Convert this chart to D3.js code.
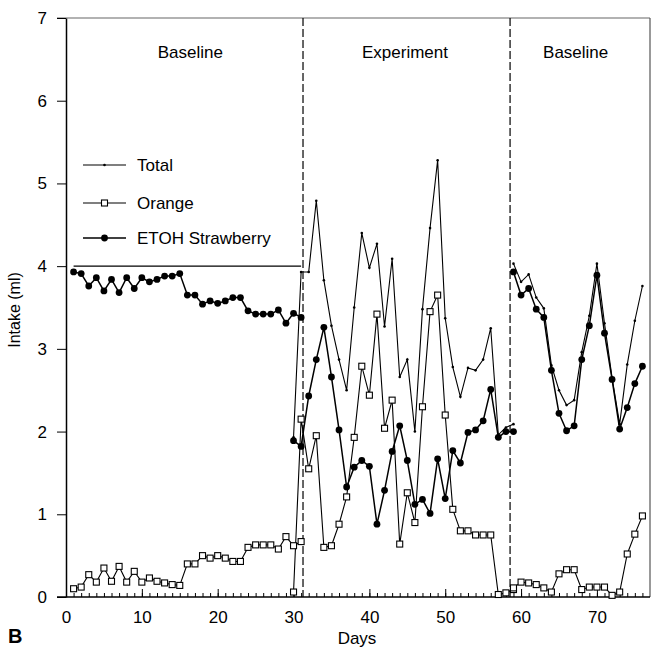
<!DOCTYPE html>
<html>
<head>
<meta charset="utf-8">
<script src="https://cdn.jsdelivr.net/npm/d3@7"></script>
<style>
  body { margin: 0; background: #fff; }
  svg { font-family: "Liberation Sans", Arial, sans-serif; }
  .axis text { font-size: 17px; fill: #000; }
  .axis path, .axis line { stroke: #000; }
</style>
</head>
<body>
<svg id="chart" width="659" height="657"></svg>
<script>
// phase 1 (baseline), days 1-31
const days1 = [1,2,3,4,5,6,7,8,9,10,11,12,13,14,15,16,17,18,19,20,21,22,23,24,25,26,27,28,29,30,31];
const total1 = [4.0,4.0,4.0,4.0,4.0,4.0,4.0,4.0,4.0,4.0,4.0,4.0,4.0,4.0,4.0,4.0,4.0,4.0,4.0,4.0,4.0,4.0,4.0,4.0,4.0,4.0,4.0,4.0,4.0,4.0,4.0];
const orange1 = [0.10,0.12,0.27,0.18,0.35,0.19,0.37,0.18,0.31,0.18,0.23,0.19,0.17,0.15,0.14,0.40,0.40,0.50,0.47,0.50,0.47,0.43,0.43,0.60,0.63,0.63,0.63,0.58,0.73,0.62,0.67];
const straw1 = [3.93,3.91,3.76,3.86,3.70,3.84,3.68,3.86,3.73,3.86,3.81,3.84,3.88,3.88,3.91,3.65,3.65,3.54,3.58,3.55,3.58,3.62,3.62,3.46,3.42,3.42,3.42,3.47,3.31,3.43,3.38];

// phase 2 (experiment), days 30-59
const days2 = [30,31,32,33,34,35,36,37,38,39,40,41,42,43,44,45,46,47,48,49,50,51,52,53,54,55,56,57,58,59];
const total2 = [1.93,3.93,3.93,4.79,3.83,3.28,2.87,2.50,3.50,4.40,3.98,4.27,3.27,4.09,2.66,2.87,2.00,3.48,4.46,5.28,3.37,2.78,2.42,2.77,2.74,2.87,3.25,1.96,2.05,2.09];
const orange2 = [0.06,2.15,1.55,1.95,0.60,0.62,0.88,1.21,1.93,2.79,2.44,3.42,2.04,2.38,0.64,1.26,0.90,2.30,3.45,3.65,2.20,1.06,0.80,0.80,0.75,0.75,0.75,0.03,0.05,0.09];
const straw2 = [1.89,1.82,2.43,2.87,3.26,2.66,2.02,1.33,1.57,1.65,1.58,0.88,1.29,1.76,2.07,1.65,1.12,1.18,1.01,1.67,1.19,1.77,1.62,1.99,2.02,2.13,2.51,1.93,2.00,2.00];

// phase 3 (baseline), days 59-76
const days3 = [59,60,61,62,63,64,65,66,67,68,69,70,71,72,73,74,75,76];
const total3 = [4.03,3.81,3.90,3.62,3.49,2.80,2.50,2.32,2.38,2.96,3.40,4.03,3.31,2.65,2.09,2.81,3.34,3.76];
const orange3 = [0.11,0.18,0.17,0.15,0.11,0.06,0.28,0.33,0.33,0.09,0.12,0.12,0.12,0.02,0.06,0.52,0.76,0.98];
const straw3 = [3.93,3.65,3.73,3.48,3.38,2.74,2.22,2.01,2.07,2.87,3.28,3.89,3.19,2.63,2.03,2.29,2.58,2.79];

const phaseBreaks = [31.25, 58.55];
const phaseLabels = ["Baseline", "Experiment", "Baseline"];
const phaseLabelDays = [16.4, 44.7, 67.2];
const yTicks = [0,1,2,3,4,5,6,7];
const xTicks = [0,10,20,30,40,50,60,70];
const legendNames = ["Total", "Orange", "ETOH Strawberry"];

const svg = d3.select("#chart");
const mLeft = 66, mRight = 650, mTop = 18, mBottom = 597;

let x = d3.scaleLinear().domain([0, 77]).range([mLeft, mRight]);
let y = d3.scaleLinear().domain([0, 7]).range([mBottom, mTop]);

// frame (top and right edges)
svg.append("line").attr("x1", 57).attr("x2", mRight).attr("y1", mTop).attr("y2", mTop)
  .attr("stroke", "#666").attr("stroke-width", 1.2);
svg.append("line").attr("x1", mRight).attr("x2", mRight).attr("y1", mTop).attr("y2", mBottom)
  .attr("stroke", "#555").attr("stroke-width", 1.2);

// y axis
let yAxis = svg.append("g").attr("class", "axis")
  .attr("transform", "translate(" + mLeft + ",0)")
  .call(d3.axisLeft(y).tickValues(yTicks).tickFormat(d3.format("d"))
    .tickSize(9).tickSizeOuter(0).tickPadding(10));
yAxis.select(".domain").attr("stroke-width", 1.5);

// x axis: minor ticks each day, major ticks every 10
let minorDays = d3.range(0, 77);
svg.append("g").attr("class", "axis")
  .attr("transform", "translate(0," + mBottom + ")")
  .call(d3.axisBottom(x).tickValues(minorDays).tickSize(-4).tickFormat(""))
  .select(".domain").remove();
let xAxis = svg.append("g").attr("class", "axis")
  .attr("transform", "translate(0," + mBottom + ")")
  .call(d3.axisBottom(x).tickValues(xTicks).tickSizeInner(-8).tickSizeOuter(0).tickPadding(14));
xAxis.select(".domain").attr("d", "M57,0H" + mRight).attr("stroke-width", 1.5);

// phase separators
svg.selectAll(".phase").data(phaseBreaks).enter().append("line")
  .attr("x1", d => x(d)).attr("x2", d => x(d))
  .attr("y1", mTop).attr("y2", mBottom)
  .attr("stroke", "#000").attr("stroke-width", 1.2)
  .attr("stroke-dasharray", "8,3");

svg.selectAll(".plabel").data(phaseLabels).enter().append("text")
  .attr("x", (d, i) => x(phaseLabelDays[i]))
  .attr("y", 58)
  .attr("text-anchor", "middle")
  .style("font-size", "17px")
  .text(d => d);

// series
let line = d3.line().x(d => x(d[0])).y(d => y(d[1]));
function pairs(days, vals) { return days.map((d, i) => [d, vals[i]]); }

let segments = [
  { name: "total", pts: [pairs(days1, total1), pairs(days2, total2), pairs(days3, total3)] },
  { name: "orange", pts: [pairs(days1, orange1), pairs(days2, orange2), pairs(days3, orange3)] },
  { name: "straw", pts: [pairs(days1, straw1), pairs(days2, straw2), pairs(days3, straw3)] }
];
let widths = { total: 1.1, orange: 1.1, straw: 1.5 };

segments.forEach(function (s) {
  s.pts.forEach(function (p) {
    svg.append("path").datum(p).attr("d", line)
      .attr("fill", "none").attr("stroke", "#000")
      .attr("stroke-width", widths[s.name]);
  });
});

function drawMarker(g, name, cx, cy) {
  if (name === "total") {
    g.append("circle").attr("cx", cx).attr("cy", cy).attr("r", 1.3).attr("fill", "#000");
  } else if (name === "orange") {
    g.append("rect").attr("x", cx - 3).attr("y", cy - 3).attr("width", 6).attr("height", 6)
      .attr("fill", "#fff").attr("stroke", "#000").attr("stroke-width", 1.1);
  } else {
    g.append("circle").attr("cx", cx).attr("cy", cy).attr("r", 3.4).attr("fill", "#000");
  }
}

let marks = svg.append("g");
segments.forEach(function (s) {
  s.pts.forEach(function (p, k) {
    if (s.name === "total" && k === 0) return;
    p.forEach(d => drawMarker(marks, s.name, x(d[0]), y(d[1])));
  });
});

// legend
let legendY = [165, 203, 238];
let legKeys = ["total", "orange", "straw"];
legendNames.forEach(function (n, i) {
  let g = svg.append("g");
  g.append("line").attr("x1", 83).attr("x2", 126)
    .attr("y1", legendY[i]).attr("y2", legendY[i])
    .attr("stroke", "#000").attr("stroke-width", widths[legKeys[i]]);
  drawMarker(g, legKeys[i], 104.5, legendY[i]);
  g.append("text").attr("x", 137).attr("y", legendY[i] + 6)
    .style("font-size", "17px").text(n);
});

// axis titles
svg.append("text").attr("x", 357).attr("y", 644).attr("text-anchor", "middle")
  .style("font-size", "17px").text("Days");
svg.append("text").attr("transform", "translate(20,310) rotate(-90)")
  .attr("text-anchor", "middle").style("font-size", "16px").text("Intake (ml)");
svg.append("text").attr("x", 8).attr("y", 643)
  .style("font-size", "20px").style("font-weight", "bold").text("B");
</script>
</body>
</html>
